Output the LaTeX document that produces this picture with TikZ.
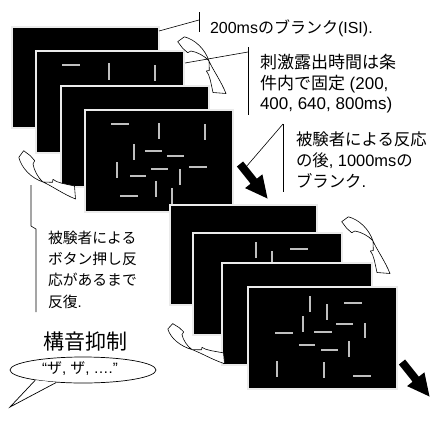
\documentclass[tikz,border=0pt]{standalone}
\usepackage{fontspec}
\setmainfont{Noto Sans CJK JP}
\newfontfamily\lat{Liberation Sans}
\usetikzlibrary{shapes.geometric}
\begin{document}
\begin{tikzpicture}[x=1pt,y=-1pt,
  screen/.style={fill=black, draw=black!8, line width=1.1pt, inner sep=0pt, outer sep=0pt, anchor=north west},
  stim/.style={draw=black!25, line width=1.4pt},
  carrow/.style={fill=white, draw=black, line width=0.6pt, line join=round},
  lead/.style={draw=black, line width=0.6pt},
  bigarr/.style={fill=black},
  txt/.style={inner sep=0pt, outer sep=0pt, anchor=north west, align=left},
  curvarr/.pic={\path[carrow] (0.7,5.7) -- (7.3,0.8) .. controls (18,3.5) and (28,13) .. (32,25)
      .. controls (36,34) and (44,45) .. (49,57.5) -- (36,56.5) -- (33.3,44) -- (31.5,38.5)
      -- (29.3,35) -- (32.3,34.5) -- (32,25) .. controls (28,20) and (20,16) .. (14,15)
      -- (10.7,16.7) -- (5.7,12.3) -- cycle;},
  blkarr/.pic={\path[bigarr] (236.9,166.5) -- (243.1,161.5) -- (256.9,178.7) -- (262.4,174.3) -- (267.5,198.5) -- (245.1,188.1) -- (250.6,183.7) -- cycle;}
]
\useasboundingbox[fill=white] (0,0) rectangle (430,423);

% top group
\node[screen, minimum width=147pt, minimum height=101pt] (r1) at (12,27) {};
\node[screen, minimum width=148pt, minimum height=102pt] (r2) at (36,51) {};
\path[stim] (62,65) -- (80,65);
\path[stim] (109,63) -- (109,80);
\path[stim] (155,65) -- (155,81);
\node[screen, minimum width=148pt, minimum height=101pt] (r3) at (61,86) {};
\node[screen, minimum width=148pt, minimum height=102pt] (r4) at (85,110) {};
\path[stim] (111,124) -- (129,124);
\path[stim] (159,123) -- (159,139);
\path[stim] (205,124) -- (205,140);
\path[stim] (134,144) -- (134,160);
\path[stim] (145,151) -- (162,151);
\path[stim] (167,156) -- (184,156);
\path[stim] (117,162) -- (117,178);
\path[stim] (151,169) -- (168,169);
\path[stim] (189,167) -- (207,167);
\path[stim] (130,176) -- (146,176);
\path[stim] (180,169) -- (180,185);
\path[stim] (156,181) -- (156,197);
\path[stim] (120,196) -- (138,196);
\path[stim] (172,188) -- (172,204);

% bottom group
\node[screen, minimum width=147pt, minimum height=100pt] (b1) at (170,205) {};
\node[screen, minimum width=149pt, minimum height=102pt] (b2) at (193,233) {};
\path[stim] (256,242) -- (256,258);
\path[stim] (272,251) -- (272,267);
\path[stim] (290,249) -- (308,249);
\node[screen, minimum width=150pt, minimum height=102pt] (b3) at (222,263) {};
\node[screen, minimum width=149pt, minimum height=102pt] (b4) at (248,287) {};
\path[stim] (310,296) -- (310,312);
\path[stim] (327,304) -- (327,320);
\path[stim] (344,303) -- (362,303);
\path[stim] (303,316) -- (303,332);
\path[stim] (336,324) -- (353,324);
\path[stim] (365,323) -- (365,338);
\path[stim] (275,333) -- (293,333);
\path[stim] (314,332) -- (332,332);
\path[stim] (299,345) -- (315,345);
\path[stim] (321,350) -- (338,350);
\path[stim] (349,341) -- (349,357);
\path[stim] (277,361) -- (277,377);
\path[stim] (324,362) -- (324,378);
\path[stim] (353,376) -- (371,376);

% curved arrows
\begin{scope}[shift={(177,36)}] \pic {curvarr}; \end{scope}
\begin{scope}[shift={(341,216)}] \pic {curvarr}; \end{scope}
\begin{scope}[shift={(18,150)}, x={(0pt,-1pt)}, y={(1pt,0pt)}] \pic {curvarr}; \end{scope}
\begin{scope}[shift={(167,323)}, x={(0pt,-0.83pt)}, y={(1pt,0pt)}] \pic {curvarr}; \end{scope}

% big black arrows
\pic {blkarr};
\begin{scope}[shift={(162,198)}] \pic {blkarr}; \end{scope}

% leaders and bars
\coordinate (k1t) at (199,12); \coordinate (k1b) at (199,32); \coordinate (k1m) at (199,20);
\draw[lead] (k1t) -- (k1b);
\draw[lead] ([yshift=-4pt]r1.north east) -- (k1m);
\coordinate (k2t) at (248,47); \coordinate (k2b) at (248,115); \coordinate (k2m) at (248,52);
\coordinate (l2a) at (185,63);
\draw[lead] (k2t) -- (k2b);
\draw[lead] (l2a) -- (k2m);
\coordinate (k3t) at (283,124); \coordinate (k3b) at (283,192); \coordinate (l3a) at (246,167);
\draw[lead] (k3t) -- (k3b);
\draw[lead] (k3t) -- (l3a);
\coordinate (k4s) at (31,185); \coordinate (k4c) at (31,226); \coordinate (k4t) at (36,229); \coordinate (k4b) at (36,312);
\draw[lead] (k4s) -- (k4c) -- (k4t) -- (k4b);

% texts
\node[txt, font=\fontsize{16}{19}\selectfont] (t1) at (210,20) {{\lat 200ms}のブランク{\lat (ISI).}};
\node[txt, font=\fontsize{17}{20.5}\selectfont] (t2) at (260,54.5) {刺激露出時間は条\\件内で固定{\lat\ (200,}\\{\lat 400, 640, 800ms)}};
\node[txt, font=\fontsize{16.4}{21}\selectfont] (t3) at (296,132) {被験者による反応\\の後{\lat , 1000ms}の\\ブランク{\lat .}};
\node[txt, font=\fontsize{14.8}{21.2}\selectfont] (t4) at (48,231) {被験者による\\ボタン押し反\\応があるまで\\反復{\lat .}};
\node[inner sep=0pt, font=\fontsize{21}{24}\selectfont] (t5) at (85,342) {構音抑制};

% speech bubble
\node[draw, ellipse, line width=0.7pt, minimum width=146pt, minimum height=26pt, inner sep=0pt] (bub) at (83,370) {};
\path[fill=white] (bub.192) -- (10,407) -- (bub.205) -- cycle;
\draw[line width=0.7pt, line join=miter] (bub.192) -- (10,407) -- (bub.205);
\node[inner sep=0pt, font=\fontsize{15}{18}\selectfont] (t6) at (80,369) {{\lat “}ザ{\lat , }ザ{\lat , ….”}};
\end{tikzpicture}
\end{document}
